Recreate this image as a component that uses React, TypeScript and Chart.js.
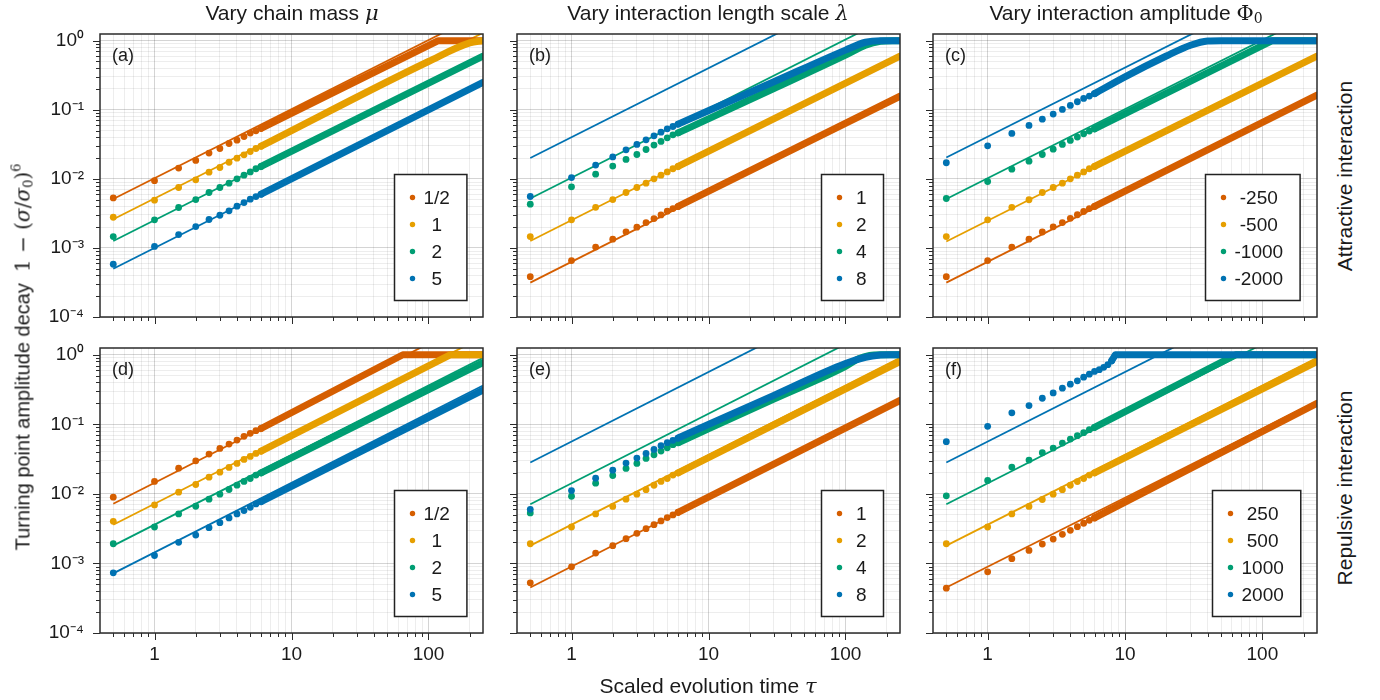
import React, { useEffect, useRef } from 'react';
import { Chart, registerables } from 'chart.js';

Chart.register(...registerables);

const SANS = '"Liberation Sans", Arial, Helvetica, sans-serif';
const SERIF = '"DejaVu Serif", "Liberation Serif", serif';
const TEXT = '#1a1a1a';
const COLORS = ['#D55E00', '#E69F00', '#009E73', '#0072B2'];
const GRID_MAJOR = 'rgba(0,0,0,0.17)';
const GRID_MINOR = 'rgba(0,0,0,0.07)';

// ---------- axes ----------
const X_MIN = 0.4;
const X_MAX = 250;
const Y_MIN = 1e-4;
const Y_MAX = 1.25;
const X_TICKS = [0.5, 0.6, 0.7, 0.8, 0.9, 1, 2, 3, 4, 5, 6, 7, 8, 9, 10, 20, 30, 40, 50, 60, 70, 80, 90, 100, 200];
const X_MAJOR = [1, 10, 100];
const X_LABELS = ['1', '10', '100'];
const Y_TICKS = [
  1e-4, 2e-4, 3e-4, 4e-4, 5e-4, 6e-4, 7e-4, 8e-4, 9e-4,
  1e-3, 2e-3, 3e-3, 4e-3, 5e-3, 6e-3, 7e-3, 8e-3, 9e-3,
  0.01, 0.02, 0.03, 0.04, 0.05, 0.06, 0.07, 0.08, 0.09,
  0.1, 0.2, 0.3, 0.4, 0.5, 0.6, 0.7, 0.8, 0.9, 1,
];
const Y_MAJOR = [1e-4, 1e-3, 1e-2, 1e-1, 1];
const Y_LABELS = ['10⁻⁴', '10⁻³', '10⁻²', '10⁻¹', '10⁰'];

// ---------- data ----------
const TAU_DOTS = [0.5, 1, 1.5, 2, 2.5, 3, 3.5, 4, 4.5, 5, 5.5, 6, 6.5, 7, 7.5, 8];
const FIT_TAU = [0.5, 250];

const LEGEND_MU = ['1/2', '1', '2', '5'];
const LEGEND_LAMBDA = ['1', '2', '4', '8'];
const LEGEND_PHI_ATTR = ['-250', '-500', '-1000', '-2000'];
const LEGEND_PHI_REP = ['250', '500', '1000', '2000'];

// (a) vary chain mass, attractive
const A1_DOTS = [5.3e-3, 9.4e-3, 0.0143, 0.0185, 0.0236, 0.0275, 0.0325, 0.0363, 0.041, 0.046, 0.0497, 0.054];
const A1_BAND = [[6, 0.054], [118, 1.0], [250, 1.0]];
const A1_FIT = [5.1e-3, 2.55];
const A2_DOTS = [2.78e-3, 4.91e-3, 7.49e-3, 9.68e-3, 0.0125, 0.0146, 0.0174, 0.0199, 0.0223, 0.0249, 0.0275, 0.0297];
const A2_BAND = [[6, 0.0297], [100, 0.5], [200, 0.93], [250, 1.0]];
const A2_FIT = [2.6e-3, 1.3];
const A3_DOTS = [1.46e-3, 2.55e-3, 3.85e-3, 5.01e-3, 6.34e-3, 7.49e-3, 8.65e-3, 0.01, 0.0113, 0.0126, 0.014, 0.0151];
const A3_BAND = [[6, 0.0151], [250, 0.6]];
const A3_FIT = [1.26e-3, 0.63];
const A4_DOTS = [5.8e-4, 1.05e-3, 1.56e-3, 2.04e-3, 2.58e-3, 2.97e-3, 3.44e-3, 4.02e-3, 4.54e-3, 5.07e-3, 5.54e-3, 6.0e-3];
const A4_BAND = [[6, 0.006], [250, 0.25]];
const A4_FIT = [5.0e-4, 0.25];

// (b) vary interaction length scale, attractive
const B1_DOTS = [3.84e-4, 6.55e-4, 1.03e-3, 1.34e-3, 1.71e-3, 2.0e-3, 2.33e-3, 2.66e-3, 3.0e-3, 3.4e-3, 3.71e-3, 3.97e-3];
const B1_BAND = [[6, 0.004], [250, 0.157]];
const B1_FIT = [3.15e-4, 0.158];
const B2_DOTS = [1.46e-3, 2.55e-3, 3.87e-3, 5.01e-3, 6.34e-3, 7.49e-3, 8.65e-3, 0.01, 0.0113, 0.0126, 0.014, 0.0151];
const B2_BAND = [[6, 0.0151], [250, 0.6]];
const B2_FIT = [1.26e-3, 0.63];
const B3_DOTS = [4.3e-3, 7.66e-3, 0.0117, 0.0153, 0.0191, 0.0225, 0.0266, 0.0308, 0.0348, 0.0393, 0.0434, 0.0464];
const B3_BAND = [[6, 0.0464], [30, 0.203], [100, 0.62], [140, 0.86], [180, 0.98], [220, 1.0], [250, 1.0]];
const B3_FIT = [5.2e-3, 2.6];
const B4_DOTS = [5.55e-3, 0.01045, 0.0158, 0.0208, 0.0263, 0.0315, 0.0367, 0.042, 0.0474, 0.053, 0.0573, 0.062];
const B4_BAND = [[6, 0.062], [30, 0.254], [100, 0.73], [140, 0.95], [180, 1.0], [250, 1.0]];
const B4_FIT = [0.02, 10];

// (c) vary interaction amplitude, attractive
const C1_DOTS = [3.84e-4, 6.55e-4, 1.03e-3, 1.34e-3, 1.7e-3, 2.02e-3, 2.33e-3, 2.68e-3, 3.02e-3, 3.37e-3, 3.71e-3, 3.99e-3];
const C1_BAND = [[6, 0.004], [250, 0.163]];
const C1_FIT = [3.15e-4, 0.158];
const C2_DOTS = [1.46e-3, 2.55e-3, 3.87e-3, 4.98e-3, 6.34e-3, 7.49e-3, 8.65e-3, 0.01, 0.0113, 0.0126, 0.014, 0.0151];
const C2_BAND = [[6, 0.0151], [250, 0.6]];
const C2_FIT = [1.24e-3, 0.62];
const C3_DOTS = [5.19e-3, 9.15e-3, 0.0138, 0.018, 0.0225, 0.0269, 0.0315, 0.036, 0.0402, 0.0449, 0.0491, 0.053];
const C3_BAND = [[6, 0.053], [118, 1.0], [250, 1.0]];
const C3_FIT = [5.1e-3, 2.55];
const C4_DOTS = [0.0171, 0.0301, 0.0454, 0.0593, 0.0732, 0.0866, 0.101, 0.1156, 0.1306, 0.146, 0.158, 0.171];
const C4_BAND = [[6, 0.171], [10, 0.3], [20, 0.6], [30, 0.86], [40, 0.99], [50, 1.0], [250, 1.0]];
const C4_FIT = [0.0204, 10.2];

// (d) vary chain mass, repulsive
const D1_DOTS = [8.95e-3, 0.0151, 0.0234, 0.0299, 0.0373, 0.045, 0.052, 0.0594, 0.0671, 0.0741, 0.081, 0.087];
const D1_BAND = [[6, 0.087], [65, 1.0], [250, 1.0]];
const D1_FIT = [7.2e-3, 3.6];
const D2_DOTS = [4.03e-3, 6.94e-3, 0.01057, 0.01364, 0.0174, 0.0205, 0.024, 0.0274, 0.0313, 0.0345, 0.0382, 0.0412];
const D2_BAND = [[6, 0.0412], [145, 1.0], [250, 1.0]];
const D2_FIT = [3.6e-3, 1.8];
const D3_DOTS = [1.92e-3, 3.34e-3, 5.15e-3, 6.64e-3, 8.38e-3, 9.89e-3, 0.01155, 0.01334, 0.0151, 0.01664, 0.0186, 0.0201];
const D3_BAND = [[6, 0.0201], [250, 0.77]];
const D3_FIT = [1.8e-3, 0.9];
const D4_DOTS = [7.33e-4, 1.3e-3, 2.01e-3, 2.56e-3, 3.27e-3, 3.86e-3, 4.51e-3, 5.15e-3, 5.75e-3, 6.42e-3, 7.18e-3, 7.75e-3];
const D4_BAND = [[6, 0.00775], [250, 0.31]];
const D4_FIT = [7.2e-4, 0.36];

// (e) vary interaction length scale, repulsive
const E1_DOTS = [5.26e-4, 8.95e-4, 1.41e-3, 1.8e-3, 2.27e-3, 2.71e-3, 3.16e-3, 3.61e-3, 4.08e-3, 4.56e-3, 4.98e-3, 5.44e-3];
const E1_BAND = [[6, 0.00544], [250, 0.22]];
const E1_FIT = [4.5e-4, 0.225];
const E2_DOTS = [1.92e-3, 3.34e-3, 5.15e-3, 6.6e-3, 8.38e-3, 9.89e-3, 0.0115, 0.0133, 0.0151, 0.0166, 0.0186, 0.0201];
const E2_BAND = [[6, 0.0201], [250, 0.8]];
const E2_FIT = [1.8e-3, 0.9];
const E3_DOTS = [5.32e-3, 9.25e-3, 0.01425, 0.01838, 0.0232, 0.0274, 0.0323, 0.0365, 0.0412, 0.046, 0.0509, 0.0544];
const E3_BAND = [[6, 0.0544], [30, 0.231], [100, 0.68], [125, 0.88], [150, 0.98], [180, 1.0], [250, 1.0]];
const E3_FIT = [7.1e-3, 3.55];
const E4_DOTS = [6.0e-3, 0.01117, 0.01683, 0.0219, 0.0277, 0.0327, 0.0382, 0.0436, 0.0492, 0.0544, 0.0588, 0.0635];
const E4_BAND = [[6, 0.0635], [30, 0.261], [100, 0.75], [140, 0.92], [180, 0.99], [210, 1.0], [250, 1.0]];
const E4_FIT = [0.0283, 14.1];

// (f) vary interaction amplitude, repulsive
const F1_DOTS = [4.41e-4, 7.58e-4, 1.17e-3, 1.54e-3, 1.9e-3, 2.24e-3, 2.62e-3, 2.99e-3, 3.38e-3, 3.78e-3, 4.17e-3, 4.51e-3];
const F1_BAND = [[6, 0.00451], [250, 0.2]];
const F1_FIT = [4.5e-4, 0.215];
const F2_DOTS = [1.92e-3, 3.34e-3, 5.15e-3, 6.6e-3, 8.3e-3, 9.89e-3, 0.0115, 0.0133, 0.015, 0.0166, 0.0186, 0.0201];
const F2_BAND = [[6, 0.0201], [250, 0.8]];
const F2_FIT = [1.8e-3, 0.9];
const F3_DOTS = [9.36e-3, 0.01556, 0.0243, 0.0306, 0.039, 0.0456, 0.0538, 0.0614, 0.0687, 0.0759, 0.0838, 0.0906];
const F3_BAND = [[6, 0.0906], [64, 1.0], [250, 1.0]];
const F3_FIT = [7.1e-3, 3.55];
const F4_DOTS = [0.0562, 0.0936, 0.146, 0.186, 0.237, 0.283, 0.331, 0.378, 0.422, 0.476, 0.526, 0.575, 0.61, 0.66, 0.72, 0.82];
const F4_BAND = [[8, 0.82], [8.5, 1.0], [250, 1.0]];
const F4_FIT = [0.0283, 14.1];

type Series = { dots: number[]; band: number[][]; fit: number[]; smooth?: boolean };
type PanelCfg = { tag: string; row: number; col: number; legend: string[]; series: Series[] };

const PANELS: PanelCfg[] = [
  { tag: '(a)', row: 0, col: 0, legend: LEGEND_MU, series: [
    { dots: A1_DOTS, band: A1_BAND, fit: A1_FIT }, { dots: A2_DOTS, band: A2_BAND, fit: A2_FIT, smooth: true },
    { dots: A3_DOTS, band: A3_BAND, fit: A3_FIT }, { dots: A4_DOTS, band: A4_BAND, fit: A4_FIT }] },
  { tag: '(b)', row: 0, col: 1, legend: LEGEND_LAMBDA, series: [
    { dots: B1_DOTS, band: B1_BAND, fit: B1_FIT }, { dots: B2_DOTS, band: B2_BAND, fit: B2_FIT },
    { dots: B3_DOTS, band: B3_BAND, fit: B3_FIT, smooth: true }, { dots: B4_DOTS, band: B4_BAND, fit: B4_FIT, smooth: true }] },
  { tag: '(c)', row: 0, col: 2, legend: LEGEND_PHI_ATTR, series: [
    { dots: C1_DOTS, band: C1_BAND, fit: C1_FIT }, { dots: C2_DOTS, band: C2_BAND, fit: C2_FIT },
    { dots: C3_DOTS, band: C3_BAND, fit: C3_FIT }, { dots: C4_DOTS, band: C4_BAND, fit: C4_FIT, smooth: true }] },
  { tag: '(d)', row: 1, col: 0, legend: LEGEND_MU, series: [
    { dots: D1_DOTS, band: D1_BAND, fit: D1_FIT }, { dots: D2_DOTS, band: D2_BAND, fit: D2_FIT },
    { dots: D3_DOTS, band: D3_BAND, fit: D3_FIT }, { dots: D4_DOTS, band: D4_BAND, fit: D4_FIT }] },
  { tag: '(e)', row: 1, col: 1, legend: LEGEND_LAMBDA, series: [
    { dots: E1_DOTS, band: E1_BAND, fit: E1_FIT }, { dots: E2_DOTS, band: E2_BAND, fit: E2_FIT },
    { dots: E3_DOTS, band: E3_BAND, fit: E3_FIT, smooth: true }, { dots: E4_DOTS, band: E4_BAND, fit: E4_FIT, smooth: true }] },
  { tag: '(f)', row: 1, col: 2, legend: LEGEND_PHI_REP, series: [
    { dots: F1_DOTS, band: F1_BAND, fit: F1_FIT }, { dots: F2_DOTS, band: F2_BAND, fit: F2_FIT },
    { dots: F3_DOTS, band: F3_BAND, fit: F3_FIT }, { dots: F4_DOTS, band: F4_BAND, fit: F4_FIT }] },
];

// ---------- layout (styling) ----------
const COL_LEFT = [100, 517, 933];
const PLOT_W = [383, 383, 384];
const ROW_TOP = [34, 348];
const PLOT_H = [283, 285];
const PAD_T = 12;
const PAD_R = 12;
const TICK_FONT = 19;
const LEGEND_FONT = 19;

const nearly = (a: number, b: number) => Math.abs(Math.log10(a) - Math.log10(b)) < 1e-6;
const labelFor = (v: number, majors: number[], labels: string[]) => {
  const i = majors.findIndex((m) => nearly(m, v));
  return i >= 0 ? labels[i] : '';
};
const isMajor = (v: number, majors: number[]) => majors.some((m) => nearly(m, v));

const panelDecor = {
  id: 'panelDecor',
  afterDraw(chart: any, _args: any, opts: any) {
    const { ctx, chartArea } = chart;
    const { left, top, right, bottom } = chartArea;
    const xs = chart.scales.x;
    const ys = chart.scales.y;
    ctx.save();
    ctx.strokeStyle = '#2b2b2b';
    ctx.lineWidth = 1;
    ctx.beginPath();
    xs.ticks.forEach((t: any) => {
      const px = Math.round(xs.getPixelForValue(t.value)) + 0.5;
      const len = t.major ? 7 : 4;
      ctx.moveTo(px, bottom);
      ctx.lineTo(px, bottom + len);
    });
    ys.ticks.forEach((t: any) => {
      const py = Math.round(ys.getPixelForValue(t.value)) + 0.5;
      const len = t.major ? 7 : 4;
      ctx.moveTo(left - len, py);
      ctx.lineTo(left, py);
    });
    ctx.stroke();
    ctx.lineWidth = 1.5;
    ctx.strokeStyle = '#2b2b2b';
    ctx.strokeRect(left, top, right - left, bottom - top);

    ctx.fillStyle = TEXT;
    ctx.font = `18px ${SANS}`;
    ctx.textBaseline = 'middle';
    ctx.textAlign = 'left';
    ctx.fillText(opts.tag, left + 12, top + 22);

    ctx.font = `${LEGEND_FONT}px ${SANS}`;
    const labels: string[] = opts.legend;
    const maxW = Math.max(...labels.map((l) => ctx.measureText(l).width));
    const bw = Math.max(62, maxW + 46);
    const bh = 126;
    const bx = Math.round(right - 17 - bw) + 0.5;
    const by = Math.round(bottom - 17 - bh) + 0.5;
    ctx.fillStyle = '#ffffff';
    ctx.fillRect(bx, by, bw, bh);
    ctx.strokeStyle = '#222';
    ctx.lineWidth = 1.5;
    ctx.strokeRect(bx, by, bw, bh);
    labels.forEach((l, i) => {
      const cy = by + 23 + i * 27;
      ctx.fillStyle = opts.colors[i];
      ctx.beginPath();
      ctx.arc(bx + 18, cy, 2.7, 0, Math.PI * 2);
      ctx.fill();
      ctx.fillStyle = TEXT;
      ctx.textAlign = 'center';
      ctx.fillText(l, bx + bw - 17 - maxW / 2, cy + 1);
    });
    ctx.restore();
  },
};

function Panel({ cfg }: { cfg: PanelCfg }) {
  const ref = useRef<HTMLCanvasElement | null>(null);
  const yw = cfg.col === 0 ? 100 : 14;
  const xh = cfg.row === 1 ? 50 : 16;
  const w = yw + PLOT_W[cfg.col] + PAD_R;
  const h = PAD_T + PLOT_H[cfg.row] + xh;
  const left = COL_LEFT[cfg.col] - yw;
  const top = ROW_TOP[cfg.row] - PAD_T;

  useEffect(() => {
    const canvas = ref.current;
    if (!canvas) return;
    const datasets: any[] = [];
    cfg.series.forEach((s, i) => {
      datasets.push({
        type: 'line',
        data: FIT_TAU.map((x, k) => ({ x, y: s.fit[k] })),
        borderColor: COLORS[i],
        borderWidth: 1.8,
        pointRadius: 0,
        fill: false,
        order: 20 - i,
        clip: 0,
      });
    });
    cfg.series.forEach((s, i) => {
      datasets.push({
        type: 'line',
        data: s.band.map(([x, y]) => ({ x, y })),
        borderColor: COLORS[i],
        borderWidth: 7,
        borderCapStyle: 'round',
        borderJoinStyle: 'round',
        pointRadius: 0,
        cubicInterpolationMode: s.smooth ? 'monotone' : 'default',
        tension: 0,
        fill: false,
        order: 5 - i,
        clip: 0,
      });
      datasets.push({
        type: 'scatter',
        data: s.dots.map((y, k) => ({ x: TAU_DOTS[k], y })),
        backgroundColor: COLORS[i],
        borderWidth: 0,
        pointRadius: 3.4,
        showLine: false,
        order: 5 - i,
      });
    });

    const gridColor = (c: any) => (c.tick && c.tick.major ? GRID_MAJOR : GRID_MINOR);
    const chart = new Chart(canvas, {
      type: 'scatter',
      data: { datasets },
      options: {
        responsive: false,
        maintainAspectRatio: false,
        animation: false,
        events: [],
        layout: { padding: { left: 0, top: PAD_T, right: PAD_R, bottom: 0 } },
        plugins: {
          legend: { display: false },
          tooltip: { enabled: false },
          panelDecor: { tag: cfg.tag, legend: cfg.legend, colors: COLORS },
        } as any,
        scales: {
          x: {
            type: 'logarithmic',
            position: 'bottom',
            min: X_MIN,
            max: X_MAX,
            afterBuildTicks: (s: any) => {
              s.ticks = X_TICKS.map((v) => ({ value: v, major: isMajor(v, X_MAJOR) }));
            },
            afterFit: (s: any) => {
              s.height = xh;
              s.paddingLeft = 0;
              s.paddingRight = 0;
              s.paddingTop = 0;
              s.paddingBottom = 0;
            },
            border: { display: false },
            grid: { color: gridColor, lineWidth: 1, drawTicks: false },
            ticks: {
              display: cfg.row === 1,
              autoSkip: false,
              maxRotation: 0,
              minRotation: 0,
              padding: 10,
              color: TEXT,
              font: { family: SANS, size: TICK_FONT },
              callback: (v: any) => labelFor(Number(v), X_MAJOR, X_LABELS),
            },
          },
          y: {
            type: 'logarithmic',
            position: 'left',
            min: Y_MIN,
            max: Y_MAX,
            afterBuildTicks: (s: any) => {
              s.ticks = Y_TICKS.map((v) => ({ value: v, major: isMajor(v, Y_MAJOR) }));
            },
            afterFit: (s: any) => {
              s.width = yw;
              s.paddingLeft = 0;
              s.paddingRight = 0;
              s.paddingTop = 0;
              s.paddingBottom = 0;
            },
            border: { display: false },
            grid: { color: gridColor, lineWidth: 1, drawTicks: false },
            ticks: {
              display: cfg.col === 0,
              autoSkip: false,
              padding: 16,
              color: TEXT,
              font: { family: SANS, size: TICK_FONT },
              callback: (v: any) => labelFor(Number(v), Y_MAJOR, Y_LABELS),
            },
          },
        } as any,
      },
      plugins: [panelDecor as any],
    } as any);
    return () => chart.destroy();
  }, []);

  return (
    <canvas
      ref={ref}
      width={w}
      height={h}
      style={{ position: 'absolute', left, top, width: w, height: h }}
    />
  );
}

const COL_TITLES_CENTER = [292, 708, 1126];

const textBase: React.CSSProperties = {
  position: 'absolute',
  whiteSpace: 'nowrap',
  fontFamily: SANS,
  fontSize: 21,
  color: TEXT,
  lineHeight: 1,
  transform: 'translate(-50%, -50%)',
};

export default function App() {
  return (
    <div style={{ position: 'absolute', left: 0, top: 0, width: 1380, height: 700, background: '#fff', overflow: 'hidden' }}>
      {PANELS.map((p) => (
        <Panel key={p.tag} cfg={p} />
      ))}
      <div style={{ ...textBase, left: COL_TITLES_CENTER[0], top: 13 }}>
        Vary chain mass <i style={{ fontFamily: SERIF }}>μ</i>
      </div>
      <div style={{ ...textBase, left: COL_TITLES_CENTER[1], top: 13 }}>
        Vary interaction length scale <i style={{ fontFamily: SERIF }}>λ</i>
      </div>
      <div style={{ ...textBase, left: COL_TITLES_CENTER[2], top: 13 }}>
        Vary interaction amplitude <span style={{ fontFamily: SERIF }}>Φ<sub style={{ fontSize: 14, verticalAlign: -3 }}>0</sub></span>
      </div>
      <div style={{ ...textBase, left: 708, top: 686 }}>
        Scaled evolution time <i style={{ fontFamily: SERIF }}>τ</i>
      </div>
      <div style={{ ...textBase, fontSize: 20, left: 22, top: 357, transform: 'translate(-50%, -50%) rotate(-90deg)' }}>
        Turning point amplitude decay&nbsp;&nbsp;
        <span style={{ fontFamily: SERIF }}>
          1 − (<i>σ</i>/<i>σ</i><sub style={{ fontSize: 13, verticalAlign: -3 }}>0</sub>)<sup style={{ fontSize: 13, verticalAlign: 9 }}>6</sup>
        </span>
      </div>
      <div style={{ ...textBase, left: 1344, top: 176, transform: 'translate(-50%, -50%) rotate(-90deg)' }}>
        Attractive interaction
      </div>
      <div style={{ ...textBase, left: 1344, top: 488, transform: 'translate(-50%, -50%) rotate(-90deg)' }}>
        Repulsive interaction
      </div>
    </div>
  );
}
